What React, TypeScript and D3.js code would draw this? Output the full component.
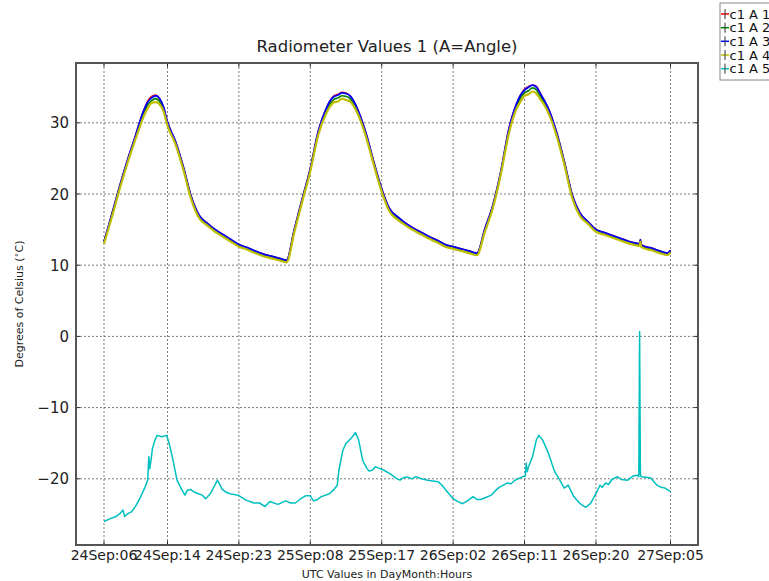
import React from "react";
import * as d3 from "d3";

// Hours since 24 Sep 00:00 UTC
const hours = [
  6, 7, 8, 9, 10, 10.5, 11, 11.5, 12, 12.5, 13, 13.5, 14,
  15, 16, 17, 18, 19, 20, 21, 22, 23, 24, 25, 26, 27, 28, 29, 30, 31, 32, 33, 34,
  34.5, 35, 35.5, 36, 36.5, 37, 37.5,
  38, 39, 40, 41, 42, 43, 44, 45, 46, 47, 48, 49, 50, 51, 52, 53, 54, 55, 56, 57, 58,
  58.5, 59, 59.5, 60, 60.5, 61, 61.5,
  62, 63, 64, 65, 66, 67, 68, 69, 70, 71, 72, 73,
  73.5, 73.6, 73.7, 74, 75, 76, 77, 77.4,
];

const angle1 = [
  13.3, 17.2, 21.2, 24.9, 28.3, 30.1, 31.7, 33.0, 33.7, 33.9, 33.4, 32.2, 30.1,
  27.4, 23.8, 19.6, 17.0, 15.9, 15.0, 14.3, 13.6, 12.9, 12.5, 12.0, 11.6, 11.3, 11.0, 10.7, 15.1, 19.4, 23.6, 28.8, 32.0,
  33.1, 33.8, 34.0, 34.3, 34.2, 33.8, 33.0,
  31.8, 28.6, 24.5, 20.7, 17.9, 16.8, 15.9, 15.2, 14.6, 14.0, 13.5, 12.9, 12.6, 12.3, 12.0, 11.7, 15.1, 18.4, 23.1, 29.0, 32.7,
  33.9, 34.7, 35.1, 35.3, 35.1, 34.1, 33.1,
  32.0, 28.8, 24.6, 19.9, 17.3, 16.1, 15.0, 14.6, 14.2, 13.8, 13.4, 13.1,
  13.0, 13.6, 12.9, 12.7, 12.4, 12.0, 11.7, 12.1,
];

const angle2 = [
  13.2, 17.0, 21.0, 24.7, 28.1, 29.8, 31.3, 32.5, 33.1, 33.4, 33.0, 31.9, 29.9,
  27.2, 23.6, 19.4, 16.8, 15.7, 14.8, 14.1, 13.4, 12.7, 12.3, 11.8, 11.4, 11.1, 10.8, 10.5, 14.9, 19.2, 23.4, 28.5, 31.6,
  32.7, 33.3, 33.5, 33.8, 33.7, 33.4, 32.6,
  31.5, 28.4, 24.3, 20.5, 17.7, 16.6, 15.7, 15.0, 14.4, 13.8, 13.3, 12.7, 12.4, 12.1, 11.8, 11.5, 14.9, 18.2, 22.9, 28.7, 32.3,
  33.5, 34.2, 34.5, 34.9, 34.6, 33.7, 32.8,
  31.7, 28.5, 24.4, 19.7, 17.1, 15.9, 14.8, 14.4, 14.0, 13.6, 13.2, 12.9,
  12.8, 13.4, 12.7, 12.5, 12.2, 11.8, 11.5, 11.9,
];

const angle3 = [
  13.3, 17.2, 21.2, 24.9, 28.3, 30.1, 31.7, 32.9, 33.5, 33.8, 33.4, 32.2, 30.1,
  27.4, 23.8, 19.6, 17.0, 15.9, 15.0, 14.3, 13.6, 12.9, 12.5, 12.0, 11.6, 11.3, 11.0, 10.7, 15.1, 19.4, 23.6, 28.8, 32.0,
  33.1, 33.7, 33.9, 34.2, 34.1, 33.8, 33.0,
  31.8, 28.6, 24.5, 20.7, 17.9, 16.8, 15.9, 15.2, 14.6, 14.0, 13.5, 12.9, 12.6, 12.3, 12.0, 11.7, 15.1, 18.4, 23.1, 29.0, 32.7,
  33.9, 34.6, 35.0, 35.3, 35.0, 34.1, 33.1,
  32.0, 28.8, 24.6, 19.9, 17.3, 16.1, 15.0, 14.6, 14.2, 13.8, 13.4, 13.1,
  13.0, 13.6, 12.9, 12.7, 12.4, 12.0, 11.7, 12.1,
];

const angle4 = [
  13.0, 16.8, 20.8, 24.5, 27.8, 29.4, 30.9, 32.0, 32.8, 32.9, 32.6, 31.6, 29.6,
  27.0, 23.4, 19.2, 16.6, 15.6, 14.7, 14.0, 13.3, 12.6, 12.2, 11.7, 11.3, 11.0, 10.7, 10.4, 14.7, 19.0, 23.2, 28.3, 31.3,
  32.3, 32.9, 33.0, 33.4, 33.2, 33.0, 32.3,
  31.2, 28.1, 24.1, 20.3, 17.5, 16.4, 15.6, 14.9, 14.3, 13.7, 13.2, 12.6, 12.3, 12.0, 11.7, 11.4, 14.7, 18.0, 22.7, 28.4, 32.0,
  33.0, 33.8, 34.0, 34.4, 34.1, 33.3, 32.5,
  31.4, 28.3, 24.2, 19.5, 16.9, 15.8, 14.7, 14.3, 13.9, 13.5, 13.1, 12.8,
  12.7, 13.3, 12.6, 12.4, 12.1, 11.7, 11.4, 11.8,
];

// Angle 5 is logged on its own time stamps
const angle5Hours = [
  6, 6.8, 7.5, 8.0, 8.4, 8.6, 9.0, 9.5, 10.0, 10.5, 11.0, 11.2, 11.5, 11.65, 11.75, 11.9, 12.1, 12.4, 12.7, 13.3,
  13.9, 14.2, 14.7, 15.2, 15.7, 16.0, 16.2, 16.5, 16.9, 17.4, 17.9, 18.4, 18.8, 19.4, 20.3, 20.9, 21.4, 21.9, 22.9, 23.9,
  24.9, 25.6, 26.3, 26.9, 27.9, 28.9, 29.5, 30.1, 30.8, 31.4, 32.0, 32.4, 32.9, 33.4, 34.4, 34.9, 35.4, 35.6, 36.1, 36.5,
  36.9, 37.3, 37.7, 38.1, 38.6, 39.1, 39.4, 39.8, 40.2, 40.6, 41.3, 42.3, 42.8, 43.3, 43.8, 44.3, 44.8, 45.3, 46.0, 46.8,
  48.1, 48.6, 49.1, 50.0, 50.6, 51.2, 51.8, 52.5, 53.0, 53.5, 54.2, 54.8, 55.3, 55.8, 56.8, 57.3, 57.8, 58.8, 59.1, 59.2,
  59.35, 59.5, 60.0, 60.5, 60.8, 61.3, 62.0, 62.8, 63.3, 64.0, 64.5, 65.2, 66.0, 66.7, 67.3, 68.0, 68.5, 68.8, 69.2, 69.6,
  70.0, 70.7, 71.2, 72.0, 72.7, 73.2, 73.4, 73.5, 73.6, 73.7, 74.3, 74.9, 75.3, 75.7, 76.2, 76.7, 77.4,
];

const angle5 = [
  -26.0, -25.6, -25.3, -24.9, -24.4, -25.3, -24.9, -24.6, -23.8, -22.8, -21.6, -21.1, -20.2, -16.9, -18.6, -17.6, -15.8, -14.6, -13.9, -14.1,
  -13.9, -15.0, -17.4, -20.2, -21.3, -21.9, -22.3, -21.6, -21.5, -21.9, -22.1, -22.3, -22.8, -22.1, -20.2, -21.5, -21.9, -22.1, -22.3, -23.0,
  -23.4, -23.4, -23.9, -23.2, -23.6, -23.1, -23.4, -23.4, -22.8, -22.4, -22.4, -23.1, -22.9, -22.5, -22.1, -21.6, -20.9, -18.8, -16.0, -15.0,
  -14.6, -14.1, -13.5, -14.6, -17.4, -18.5, -18.9, -18.8, -18.3, -18.5, -18.8, -19.5, -19.9, -20.2, -19.8, -19.8, -20.0, -19.7, -20.0, -20.2,
  -20.4, -20.9, -21.6, -22.8, -23.2, -23.5, -23.1, -22.5, -22.9, -22.9, -22.6, -22.3, -21.7, -21.2, -20.6, -20.7, -20.2, -19.7, -19.6, -17.8,
  -19.0, -18.3, -16.9, -14.5, -13.9, -14.6, -16.4, -19.0, -19.9, -21.3, -20.9, -22.5, -23.5, -24.0, -23.5, -22.1, -20.9, -21.2, -20.6, -20.8,
  -20.1, -19.7, -20.1, -20.2, -19.6, -19.5, -19.7, 0.7, -19.4, -19.7, -19.8, -19.9, -20.4, -20.9, -21.2, -21.3, -21.8,
];

const xTickHours = [6, 14, 23, 32, 41, 50, 59, 68, 77.4];
const xTickLabels = [
  "24Sep:06", "24Sep:14", "24Sep:23", "25Sep:08", "25Sep:17",
  "26Sep:02", "26Sep:11", "26Sep:20", "27Sep:05",
];
const yTicks = [-20, -10, 0, 10, 20, 30];

const seriesNames = ["c1 A 1", "c1 A 2", "c1 A 3", "c1 A 4", "c1 A 5"];
const seriesColors = ["#ff0000", "#008000", "#0000ff", "#bfbf00", "#00bfbf"];

const W = 769;
const H = 581;
const plot = { left: 76, right: 698, top: 63, bottom: 545 };
const FONT = "'DejaVu Sans', sans-serif";

export default function App() {
  const x = d3.scaleLinear().domain([2.47, 80.86]).range([plot.left, plot.right]);
  const y = d3.scaleLinear().domain([-29.3, 38.4]).range([plot.bottom, plot.top]);

  const smoothLine = d3
    .line<[number, number]>()
    .x((d) => x(d[0]))
    .y((d) => y(d[1]))
    .curve(d3.curveMonotoneX);
  const rawLine = d3
    .line<[number, number]>()
    .x((d) => x(d[0]))
    .y((d) => y(d[1]));

  const mainSeries = [angle1, angle2, angle3, angle4].map((vals) =>
    hours.map((h, i) => [h, vals[i]] as [number, number])
  );
  const fifth = angle5Hours.map((h, i) => [h, angle5[i]] as [number, number]);

  const minus = (v: number) => (v < 0 ? "\u2212" + Math.abs(v) : String(v));
  const legendRows = [14, 27.7, 41.3, 55, 68.7];
  const widths = [1.6, 1.6, 1.8, 2.2];

  return (
    <svg
      width={W}
      height={H}
      style={{ position: "absolute", left: 0, top: 0, background: "#fff" }}
      fontFamily={FONT}
    >
      <rect x={0} y={0} width={W} height={H} fill="#fff" />
      <defs>
        <clipPath id="plotClip">
          <rect x={plot.left} y={plot.top} width={plot.right - plot.left} height={plot.bottom - plot.top} />
        </clipPath>
      </defs>

      {/* grid */}
      <g stroke="#000" strokeWidth={0.6} strokeDasharray="2,2" opacity={0.85}>
        {xTickHours.map((h) => (
          <line key={"gx" + h} x1={x(h)} x2={x(h)} y1={plot.top} y2={plot.bottom} />
        ))}
        {yTicks.map((v) => (
          <line key={"gy" + v} x1={plot.left} x2={plot.right} y1={y(v)} y2={y(v)} />
        ))}
      </g>

      {/* data */}
      <g clipPath="url(#plotClip)" fill="none" strokeLinejoin="round">
        {mainSeries.map((s, i) => (
          <path key={i} d={smoothLine(s) || ""} stroke={seriesColors[i]} strokeWidth={widths[i]} />
        ))}
        <path d={rawLine(fifth) || ""} stroke={seriesColors[4]} strokeWidth={1.5} />
      </g>

      {/* ticks */}
      <g stroke="#000" strokeWidth={0.8}>
        {xTickHours.map((h) => (
          <g key={"tx" + h}>
            <line x1={x(h)} x2={x(h)} y1={plot.bottom} y2={plot.bottom - 4} />
            <line x1={x(h)} x2={x(h)} y1={plot.top} y2={plot.top + 4} />
          </g>
        ))}
        {yTicks.map((v) => (
          <g key={"ty" + v}>
            <line x1={plot.left} x2={plot.left + 4} y1={y(v)} y2={y(v)} />
            <line x1={plot.right} x2={plot.right - 4} y1={y(v)} y2={y(v)} />
          </g>
        ))}
      </g>

      {/* frame */}
      <rect
        x={plot.left}
        y={plot.top}
        width={plot.right - plot.left}
        height={plot.bottom - plot.top}
        fill="none"
        stroke="#555"
        strokeWidth={2}
      />

      {/* tick labels */}
      <g fontSize={15} fill="#222" textAnchor="end">
        {yTicks.map((v) => (
          <text key={"ly" + v} x={plot.left - 7} y={y(v) + 5.5}>
            {minus(v)}
          </text>
        ))}
      </g>
      <g fontSize={14} fill="#222" textAnchor="middle">
        {xTickHours.map((h, i) => (
          <text key={"lx" + h} x={x(h)} y={560}>
            {xTickLabels[i]}
          </text>
        ))}
      </g>

      {/* titles */}
      <text x={(plot.left + plot.right) / 2} y={52} fontSize={16.5} textAnchor="middle" fill="#222">
        Radiometer Values 1 (A=Angle)
      </text>
      <text x={(plot.left + plot.right) / 2} y={578} fontSize={11} textAnchor="middle" fill="#222">
        UTC Values in DayMonth:Hours
      </text>
      <text
        transform={`translate(23, ${(plot.top + plot.bottom) / 2}) rotate(-90)`}
        fontSize={11}
        textAnchor="middle"
        fill="#222"
      >
        Degrees of Celsius (<tspan fontSize={8} dy={-4}>{"\u2218"}</tspan>
        <tspan dy={4}>C)</tspan>
      </text>

      {/* legend */}
      <rect x={720} y={3} width={60} height={77} fill="#fff" stroke="#888" strokeWidth={1} />
      {seriesNames.map((name, i) => (
        <g key={name}>
          <line x1={721} x2={729} y1={legendRows[i]} y2={legendRows[i]} stroke={seriesColors[i]} strokeWidth={1.5} />
          <line x1={725} x2={725} y1={legendRows[i] - 5} y2={legendRows[i] + 5} stroke="#333" strokeWidth={1} />
          <text x={729.5} y={legendRows[i] + 4.5} fontSize={13} fill="#111">
            {name}
          </text>
        </g>
      ))}
    </svg>
  );
}
